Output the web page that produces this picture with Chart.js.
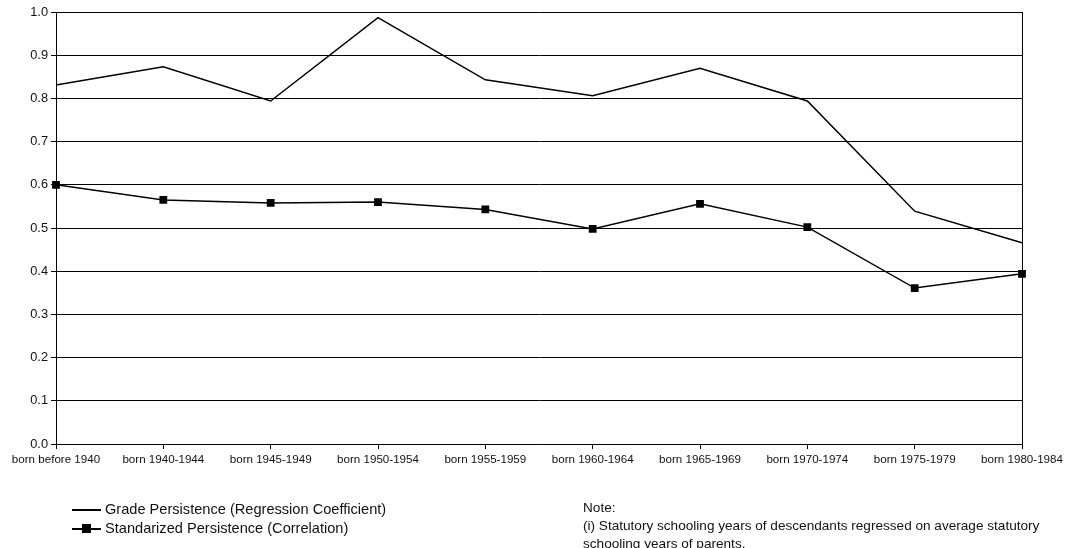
<!DOCTYPE html>
<html>
<head>
<meta charset="utf-8">
<script src="https://cdn.jsdelivr.net/npm/chart.js@4.4.0/dist/chart.umd.min.js"></script>
<style>
  body { margin: 0; background: #fff; font-family: "Liberation Sans", Arial, sans-serif; color: #111; }
  #wrap { position: relative; width: 1071px; height: 548px; }
  #legend { position: absolute; left: 72px; top: 500px; font-size: 14.6px; }
  .row { height: 19px; line-height: 19px; display: flex; align-items: center; }
  .sample { position: relative; width: 29px; height: 19px; margin-right: 4px; flex: none; }
  .sample .ln { position: absolute; left: 0; right: 0; top: 9px; height: 1.5px; background: #000; }
  .sample .sq { position: absolute; left: 10px; top: 5px; width: 9px; height: 9px; background: #000; }
  #note { position: absolute; left: 583px; top: 499px; font-size: 13.6px; line-height: 18px; white-space: nowrap; }
</style>
</head>
<body>
<div id="wrap">
  <canvas id="chart" width="1071" height="548"></canvas>
  <div id="legend">
    <div class="row"><span class="sample"><span class="ln"></span></span>Grade Persistence (Regression Coefficient)</div>
    <div class="row"><span class="sample"><span class="ln"></span><span class="sq"></span></span>Standarized Persistence (Correlation)</div>
  </div>
  <div id="note">Note:<br>(i) Statutory schooling years of descendants regressed on average statutory<br>schooling years of parents.</div>
</div>
<script>
// cohorts on the x axis
const cohorts = ["born before 1940", "born 1940-1944", "born 1945-1949", "born 1950-1954", "born 1955-1959",
                 "born 1960-1964", "born 1965-1969", "born 1970-1974", "born 1975-1979", "born 1980-1984"];

// grade persistence (regression coefficient)
const gradePersistence = [0.831, 0.873, 0.794, 0.987, 0.843, 0.806, 0.870, 0.794, 0.539, 0.466];

// standarized persistence (correlation)
const standardPersistence = [0.600, 0.565, 0.558, 0.560, 0.543, 0.498, 0.556, 0.502, 0.361, 0.394];

const lastIndex = cohorts.length - 1;

var ctx = document.getElementById('chart');
var chart = new Chart(ctx, {
    type: 'line',
    data: {
        labels: cohorts,
        datasets: [{
            label: 'Grade Persistence (Regression Coefficient)',
            data: gradePersistence,
            borderColor: '#000',
            borderWidth: 1.5,
            pointRadius: 0,
            tension: 0,
            fill: false
        }, {
            label: 'Standarized Persistence (Correlation)',
            data: standardPersistence,
            borderColor: '#000',
            backgroundColor: '#000',
            borderWidth: 1.5,
            pointStyle: 'rect',
            pointRadius: 5.5,
            pointBorderWidth: 0,
            tension: 0,
            fill: false
        }]
    },
    options: {
        responsive: false,
        animation: false,
        layout: { padding: { top: 12, right: 49, left: 0, bottom: 0 } },
        plugins: { legend: { display: false }, tooltip: { enabled: false } },
        scales: {
            x: {
                offset: false,
                grid: {
                    color: (c) => c.index === lastIndex ? '#000' : 'rgba(0,0,0,0)',
                    tickColor: '#000',
                    tickLength: 5,
                    lineWidth: 1
                },
                border: { color: '#000', width: 1 },
                ticks: {
                    color: '#111',
                    font: { family: 'Liberation Sans', size: 11.6 },
                    maxRotation: 0,
                    autoSkip: false,
                    padding: 4
                },
                afterFit: (s) => { s.height = 104; }
            },
            y: {
                min: 0,
                max: 1,
                grid: { color: '#000', tickColor: '#000', tickLength: 5, lineWidth: 1 },
                border: { color: '#000', width: 1 },
                ticks: {
                    stepSize: 0.1,
                    color: '#111',
                    font: { family: 'Liberation Sans', size: 12.8 },
                    padding: 3,
                    callback: (v) => v.toFixed(1)
                },
                afterFit: (s) => { s.width = 56; }
            }
        }
    }
});
</script>
</body>
</html>
